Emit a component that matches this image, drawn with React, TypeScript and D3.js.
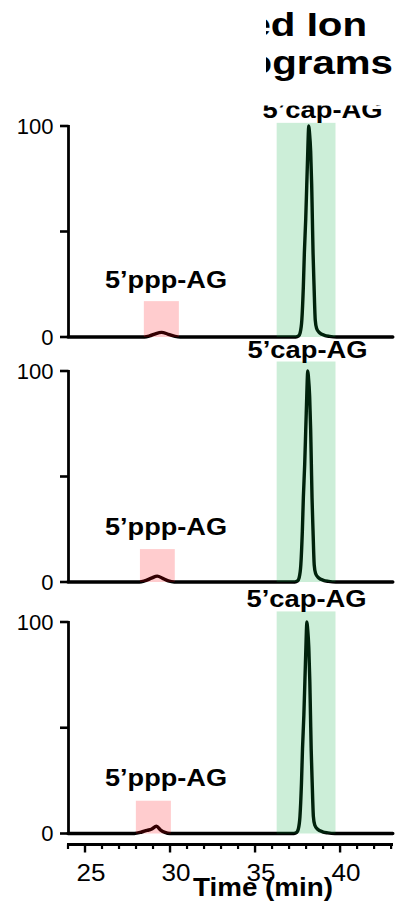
import React from "react";
import * as d3 from "d3";

// ---------- data ----------
const titleLines = ["Extracted Ion", "Chromatograms"];
const xAxisTitle = "Time (min)";
const xMajorTicks = [25, 30, 35, 40];
const xMajorLabels = ["25", "30", "35", "40"];
const xMinorTicks = [24, 26, 27, 28, 29, 31, 32, 33, 34, 36, 37, 38, 39, 41, 42, 43];
const yTicks = [0, 50, 100];
const yTickLabels = ["0", "", "100"];
const pppLabel = "5’ppp-AG";
const capLabel = "5’cap-AG";

const trace1Time = [24, 28.5, 28.8, 29.1, 29.5, 29.9, 30.3, 30.6, 37.4, 37.56, 37.65, 37.75, 37.84, 37.9, 37.98, 38.04, 38.1, 38.13, 38.16, 38.2, 38.27, 38.33, 38.37, 38.41, 38.47, 38.54, 38.62, 38.79, 39.08, 39.38, 39.8, 43.1];
const trace1Int = [0, 0, 0.5, 1.4, 2.2, 1.3, 0.3, 0, 0, 0.5, 2, 8, 24, 40, 56, 72, 88, 96, 100, 97, 88, 72, 56, 40, 24, 8, 4, 2, 0.8, 0.3, 0, 0];

const trace2Time = [24, 28.2, 28.5, 28.9, 29.25, 29.6, 29.9, 30.25, 37.34, 37.5, 37.59, 37.69, 37.78, 37.84, 37.92, 37.98, 38.04, 38.07, 38.1, 38.14, 38.21, 38.27, 38.31, 38.35, 38.41, 38.48, 38.56, 38.73, 39.02, 39.32, 39.74, 43.1];
const trace2Int = [0, 0, 0.5, 1.8, 2.8, 1.6, 0.5, 0, 0, 0.5, 2, 8, 24, 40, 56, 72, 88, 96, 100, 97, 88, 72, 56, 40, 24, 8, 4, 2, 0.8, 0.3, 0, 0];

const trace3Time = [24, 27.9, 28.3, 28.65, 28.9, 29.2, 29.45, 29.7, 30.0, 37.29, 37.45, 37.54, 37.64, 37.73, 37.79, 37.87, 37.93, 37.99, 38.02, 38.05, 38.09, 38.16, 38.22, 38.26, 38.3, 38.36, 38.43, 38.51, 38.68, 38.97, 39.27, 39.69, 43.1];
const trace3Int = [0, 0, 0.6, 1.5, 2, 3.4, 1.6, 0.5, 0, 0, 0.5, 2, 8, 24, 40, 56, 72, 88, 96, 100, 97, 88, 72, 56, 40, 24, 8, 4, 2, 0.8, 0.3, 0, 0];

const capBandStart = [36.27, 36.27, 36.27];
const capBandEnd = [39.73, 39.73, 39.73];
const capBandTop = [101.5, 104.5, 105];
const pppBandStart = [28.46, 28.23, 27.99];
const pppBandEnd = [30.52, 30.28, 30.05];
const pppBandTop = [17, 15.6, 15.5];

// ---------- layout ----------
const W = 398;
const H = 901;
const FONT = "'Liberation Sans', Arial, Helvetica, sans-serif";
const panels = [
  { top: 126, bottom: 337, pppY: 288, capX: 322.5, capY: 118, clipCap: true },
  { top: 371, bottom: 582, pppY: 535, capX: 307.5, capY: 358, clipCap: false },
  { top: 622, bottom: 833.5, pppY: 786, capX: 306.5, capY: 607, clipCap: false },
];
const traces = [
  { t: trace1Time, v: trace1Int },
  { t: trace2Time, v: trace2Int },
  { t: trace3Time, v: trace3Int },
];
const axisX = 68.5;
const xAxisY = 844.5;

export default function App() {
  const x = d3.scaleLinear().domain([24, 43.1]).range([68, 392.8]);

  return (
    <svg
      width={W}
      height={H}
      style={{ position: "absolute", left: 0, top: 0, background: "#fff" }}
      fontFamily={FONT}
    >
      <defs>
        <clipPath id="titleClip">
          <rect x={266} y={0} width={140} height={100} />
        </clipPath>
        <clipPath id="capClip">
          <rect x={0} y={105.5} width={W} height={100} />
        </clipPath>
      </defs>
      <rect x={0} y={0} width={W} height={H} fill="#fff" />

      {/* title (partially hidden) */}
      <g clipPath="url(#titleClip)" fontWeight="bold" fontSize={33} fill="#000">
        <text x={112} y={36} textLength={255} lengthAdjust="spacingAndGlyphs">
          {titleLines[0]}
        </text>
        <text x={82} y={74} textLength={311} lengthAdjust="spacingAndGlyphs">
          {titleLines[1]}
        </text>
      </g>

      {panels.map((p, i) => {
        const y = d3.scaleLinear().domain([0, 100]).range([p.bottom, p.top]);
        const tr = traces[i];
        const pts: [number, number][] = tr.t.map((t, k) => [t, tr.v[k]]);
        const line = d3
          .line<[number, number]>()
          .x((d) => x(d[0]))
          .y((d) => y(d[1]))
          .curve(d3.curveMonotoneX);
        return (
          <g key={i}>
            {/* y axis */}
            <line x1={axisX} x2={axisX} y1={y(100) - 1} y2={y(0) + 1} stroke="#000" strokeWidth={2.8} />
            {yTicks.map((v, k) => (
              <g key={k}>
                <line x1={60} x2={axisX} y1={y(v)} y2={y(v)} stroke="#000" strokeWidth={2.6} />
                {yTickLabels[k] && (
                  <text x={53.5} y={y(v)} dy="0.36em" textAnchor="end" fontSize={22} fill="#000">
                    {yTickLabels[k]}
                  </text>
                )}
              </g>
            ))}
            {/* trace */}
            <path d={line(pts) || ""} fill="none" stroke="#000" strokeWidth={3.4} strokeLinejoin="round" strokeLinecap="round" />
            {/* bands over the trace */}
            <rect
              x={x(capBandStart[i])}
              width={x(capBandEnd[i]) - x(capBandStart[i])}
              y={y(capBandTop[i])}
              height={y(0) - y(capBandTop[i])}
              fill="rgb(0,170,60)"
              fillOpacity={0.2}
            />
            <rect
              x={x(pppBandStart[i])}
              width={x(pppBandEnd[i]) - x(pppBandStart[i])}
              y={y(pppBandTop[i])}
              height={y(0) - y(pppBandTop[i])}
              fill="rgb(255,0,10)"
              fillOpacity={0.2}
            />
            {/* labels */}
            <text
              x={166}
              y={p.pppY}
              textAnchor="middle"
              fontSize={24}
              fontWeight="bold"
              textLength={122}
              lengthAdjust="spacingAndGlyphs"
              fill="#000"
            >
              {pppLabel}
            </text>
            <text
              x={p.capX}
              y={p.capY}
              textAnchor="middle"
              fontSize={24}
              fontWeight="bold"
              textLength={120}
              lengthAdjust="spacingAndGlyphs"
              fill="#000"
              clipPath={p.clipCap ? "url(#capClip)" : undefined}
            >
              {capLabel}
            </text>
          </g>
        );
      })}

      {/* x axis */}
      <line x1={67} x2={393} y1={xAxisY} y2={xAxisY} stroke="#000" strokeWidth={2.8} />
      {xMinorTicks.map((t) => (
        <line key={"m" + t} x1={x(t)} x2={x(t)} y1={xAxisY} y2={xAxisY + 4.5} stroke="#000" strokeWidth={2.2} />
      ))}
      {xMajorTicks.map((t, k) => (
        <g key={"M" + t}>
          <line x1={x(t)} x2={x(t)} y1={xAxisY} y2={xAxisY + 8} stroke="#000" strokeWidth={2.4} />
          <text
            x={x(t) + 6}
            y={880.5}
            textAnchor="middle"
            fontSize={24.5}
            textLength={29}
            lengthAdjust="spacingAndGlyphs"
            fill="#000"
          >
            {xMajorLabels[k]}
          </text>
        </g>
      ))}
      <text
        x={263}
        y={896}
        textAnchor="middle"
        fontSize={25}
        fontWeight="bold"
        textLength={140}
        lengthAdjust="spacingAndGlyphs"
        fill="#000"
      >
        {xAxisTitle}
      </text>
    </svg>
  );
}
